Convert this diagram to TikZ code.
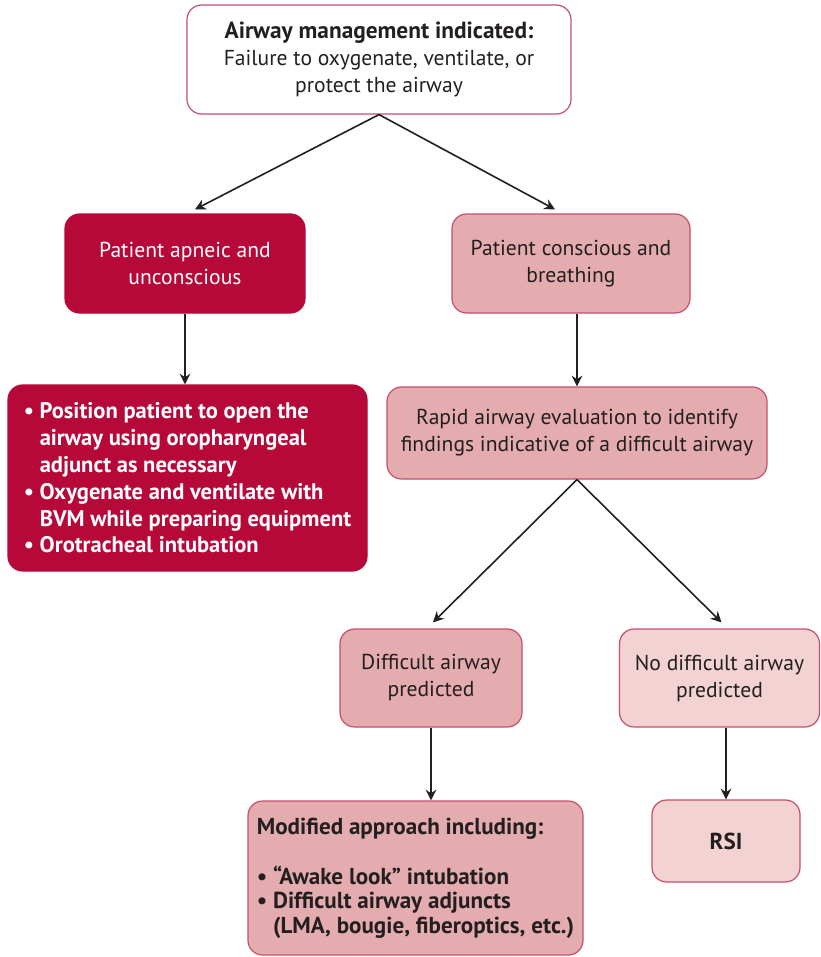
\documentclass[tikz,border=0pt]{standalone}
\usepackage{fontspec}
\setmainfont{PT Sans}
\usepackage{xcolor}
\usepackage{tikz}
\usetikzlibrary{positioning,arrows.meta,calc}
\definecolor{crim}{RGB}{183,8,58}
\definecolor{pnk}{RGB}{228,172,174}
\definecolor{lpnk}{RGB}{243,210,211}
\definecolor{edg}{RGB}{198,78,108}
\definecolor{ink}{RGB}{35,31,32}
\newcommand{\bul}{\textbullet\ }
\newcommand{\ind}{\hphantom{\textbullet\ }}

\begin{document}
\begin{tikzpicture}[x=0.75pt,y=-0.75pt,>={Stealth[length=8pt,width=8pt]},
  font=\fontsize{16.2}{20.25}\selectfont,
  box/.style={draw=edg,line width=0.9pt,rounded corners=11pt,align=center,text=ink,inner sep=3pt},
  hot/.style={box,fill=crim,draw=crim,text=white},
  mid/.style={box,fill=pnk},
  soft/.style={box,fill=lpnk},
  arr/.style={->,line width=1.2pt,draw=ink}]
  \useasboundingbox (0,0) rectangle (821,957);

  % ---------- top ----------
  \node[box,fill=white,minimum width=288pt,minimum height=81.75pt] (ind) at (379,59.5)
        {{\fontsize{17.5}{20.25}\selectfont\bfseries Airway management indicated:}\\Failure to oxygenate, ventilate, or\\protect the airway};

  % ---------- left branch ----------
  \node[hot,minimum width=180pt,minimum height=74.25pt] (apn) at (185,263.5)
        {Patient apneic and\\unconscious};
  \node[hot,align=left,minimum width=269.25pt,minimum height=139.5pt,
        font=\fontsize{16.9}{20.1}\selectfont\bfseries] (bvm) at (187.5,478)
        {\bul Position patient to open the\\\ind airway using oropharyngeal\\\ind adjunct as necessary\\
         \bul Oxygenate and ventilate with\\\ind BVM while preparing equipment\\\bul Orotracheal intubation};

  % ---------- right branch ----------
  \node[mid,minimum width=178.5pt,minimum height=74.25pt] (cons) at (571,263.5)
        {Patient conscious and\\breathing};
  \node[mid,minimum width=285pt,minimum height=69pt] (eval) at (577,433)
        {Rapid airway evaluation to identify\\findings indicative of a difficult airway};
  \node[mid,minimum width=136.5pt,minimum height=73.5pt] (diff) at (431,678)
        {Difficult airway\\predicted};
  \node[soft,minimum width=150pt,minimum height=73.5pt] (nodiff) at (719.5,678)
        {No difficult airway\\predicted};
  \node[mid,align=left,minimum width=251.25pt,minimum height=115.5pt,
        font=\fontsize{17.3}{18.4}\selectfont\bfseries] (mod) at (415.5,878)
        {Modified approach including:\\[19pt]\bul ``Awake look'' intubation\\
         \bul Difficult airway adjuncts\\\ind(LMA, bougie, fiberoptics, etc.)};
  \node[soft,minimum width=111pt,minimum height=61.5pt,font=\fontsize{17.3}{20}\selectfont\bfseries] (rsi) at (726,841)
        {RSI};

  % ---------- connectors ----------
  \draw[arr] (ind.south) -- ($(apn.north)+(10,-4)$);
  \draw[arr] (ind.south) -- ($(cons.north)+(-16,-4)$);
  \draw[arr] (apn.south) -- (apn.south |- bvm.north);
  \draw[arr] (eval.north |- cons.south) -- (eval.north);
  \draw[arr] (eval.south) -- ($(diff.north)+(2,-6)$);
  \draw[arr] (eval.south) -- ($(nodiff.north)+(2,-6)$);
  \draw[arr] (diff.south) -- (diff.south |- mod.north);
  \draw[arr] (rsi.north |- nodiff.south) -- (rsi.north);
\end{tikzpicture}
\end{document}
